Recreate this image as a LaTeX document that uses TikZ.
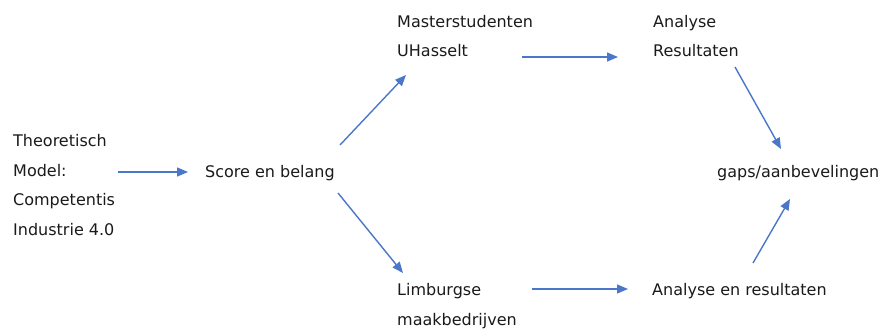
\documentclass[tikz,border=0pt]{standalone}
\usepackage{fontspec}
\setmainfont{DejaVu Sans}
\usetikzlibrary{arrows.meta}
\definecolor{arrowblue}{HTML}{4A77C9}
\definecolor{txt}{HTML}{1A1A1A}
\begin{document}
\begin{tikzpicture}[x=1pt,y=-1pt,
  lbl/.style={anchor=base west,inner sep=0pt,text=txt,align=left,
              font=\fontsize{16}{29.5}\selectfont},
  arr/.style={draw=arrowblue,line width=1.4pt,
              -{Triangle[length=11pt,width=9pt]}}]
\useasboundingbox (0,0) rectangle (882,331);

\node[lbl] (theory) at (13,235) {Theoretisch\\Model:\\Competentis\\Industrie 4.0};
\node[lbl] (score)  at (205,178) {Score en belang};
\node[lbl] (master) at (397,57)  {Masterstudenten\\UHasselt};
\node[lbl] (anres)  at (653,57)  {Analyse\\Resultaten};
\node[lbl] (limb)   at (397,325) {Limburgse\\maakbedrijven};
\node[lbl] (anen)   at (652,295) {Analyse en resultaten};
\node[lbl] (gaps)   at (717,178) {gaps/aanbevelingen};

\coordinate (a1s) at (118,172); \coordinate (a1e) at (188,172);
\coordinate (a2s) at (340,145); \coordinate (a2e) at (406,75);
\coordinate (a3s) at (338,193); \coordinate (a3e) at (403,273);
\coordinate (a4s) at (522,57);  \coordinate (a4e) at (618,57);
\coordinate (a5s) at (735,67);  \coordinate (a5e) at (781,149);
\coordinate (a6s) at (532,289); \coordinate (a6e) at (628,289);
\coordinate (a7s) at (753,263); \coordinate (a7e) at (790,199);

\draw[arr] (a1s) -- (a1e);
\draw[arr] (a2s) -- (a2e);
\draw[arr] (a3s) -- (a3e);
\draw[arr] (a4s) -- (a4e);
\draw[arr] (a5s) -- (a5e);
\draw[arr] (a6s) -- (a6e);
\draw[arr] (a7s) -- (a7e);
\end{tikzpicture}
\end{document}
